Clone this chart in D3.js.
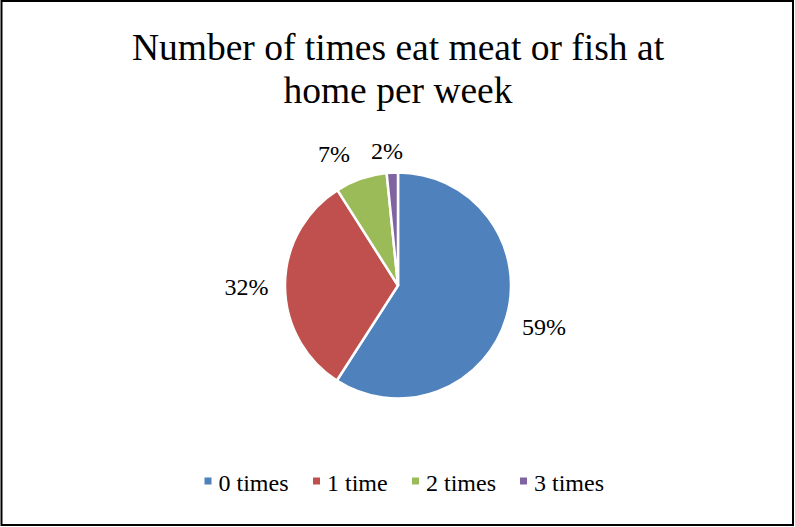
<!DOCTYPE html>
<html><head><meta charset="utf-8">
<script src="https://cdn.jsdelivr.net/npm/d3@7"></script>
</head><body style="margin:0">
<svg id="c" width="795" height="527"></svg>
<script>
const categories = ["0 times", "1 time", "2 times", "3 times"];
const values = [59.1, 31.9, 7.4, 1.6];
const labels = ["59%", "32%", "7%", "2%"];
const colors = ["#4F81BD", "#C0504D", "#9BBB59", "#8064A2"];
const titleLines = ["Number of times eat meat or fish at", "home per week"];

const FONT = "Liberation Serif";
const svg = d3.select("#c");
svg.append("rect").attr("x",1.5).attr("y",1).attr("width",791.5).attr("height",524)
  .attr("fill","#fff").attr("stroke","#000").attr("stroke-width",2);

titleLines.forEach((t,i)=>{
  svg.append("text").attr("x",398).attr("y",60+i*43).attr("text-anchor","middle")
    .style("font-family",FONT).style("font-size","37.5px").attr("fill","#000").text(t);
});

const cx=398, cy=285.5, r=113;
const data = categories.map((c,i)=>({c, v:values[i], l:labels[i], col:colors[i]}));
const pie = d3.pie().value(d=>d.v).sort(null);
const arc = d3.arc().innerRadius(0).outerRadius(r);
const arcs = pie(data);
const g = svg.append("g").attr("transform",`translate(${cx},${cy})`);
g.selectAll("path").data(arcs).join("path").attr("d",arc)
  .attr("fill",d=>d.data.col).attr("stroke","#fff").attr("stroke-width",2.5).attr("stroke-linejoin","miter");

const labelPos = [[146,49.5],[-151.5,9.5],[-64,-123.5],[-11,-126.5]];
arcs.forEach((d,i)=>{
  svg.append("text").attr("x",cx+labelPos[i][0]).attr("y",cy+labelPos[i][1]).attr("text-anchor","middle")
    .style("font-family",FONT).style("font-size","24px").attr("fill","#000").text(d.data.l);
});

const legX = [204.5, 313, 412, 520];
data.forEach((d,i)=>{
  svg.append("rect").attr("x",legX[i]).attr("y",477.5).attr("width",7).attr("height",7).attr("fill",d.col);
  svg.append("text").attr("x",legX[i]+14).attr("y",491)
    .style("font-family",FONT).style("font-size","24px").attr("fill","#000").text(d.c);
});
</script>
</body></html>
